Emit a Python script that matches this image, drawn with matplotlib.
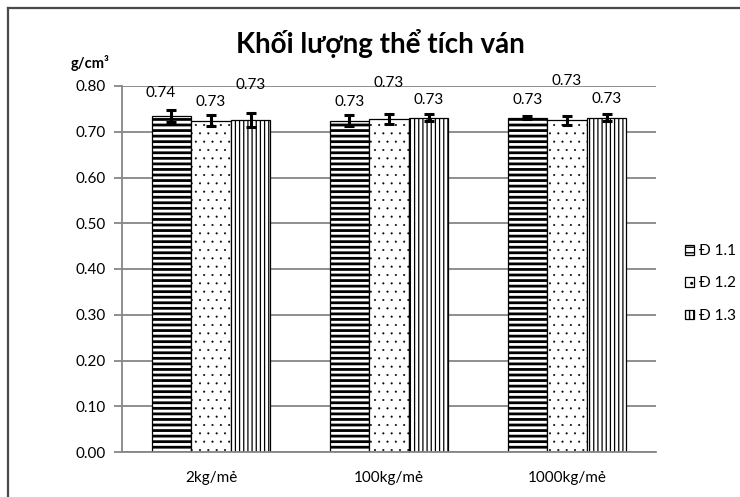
import matplotlib
matplotlib.use('Agg')
import matplotlib.pyplot as plt
import numpy as np
from matplotlib.lines import Line2D

categories = ['2kg/mẻ', '100kg/mẻ', '1000kg/mẻ']
series = ['Đ 1.1', 'Đ 1.2', 'Đ 1.3']
d11 = [0.734, 0.724, 0.731]
d12 = [0.724, 0.728, 0.725]
d13 = [0.726, 0.731, 0.731]
err11 = [0.013, 0.012, 0.004]
err12 = [0.012, 0.010, 0.010]
err13 = [0.015, 0.007, 0.008]
lab11 = ['0.74', '0.73', '0.73']
lab12 = ['0.73', '0.73', '0.73']
lab13 = ['0.73', '0.73', '0.73']
yticks = [0.0, 0.1, 0.2, 0.3, 0.4, 0.5, 0.6, 0.7, 0.8]
ytick_labels = ['0.00', '0.10', '0.20', '0.30', '0.40', '0.50', '0.60', '0.70', '0.80']

plt.rcParams['font.family'] = ['Lato', 'DejaVu Sans']

W, H = 740, 497
fig = plt.figure(figsize=(W / 100, H / 100), dpi=100)
ax = fig.add_axes([122 / W, 1 - 452 / H, (656 - 122) / W, (452 - 86) / H])

# outer border (left and top visible)
fig.add_artist(Line2D([7.5 / W, 7.5 / W], [0, 1 - 7.5 / H], transform=fig.transFigure, color='#4a4a4a', lw=1.6))
fig.add_artist(Line2D([7.5 / W, 1], [1 - 7.5 / H, 1 - 7.5 / H], transform=fig.transFigure, color='#4a4a4a', lw=1.6))

x = np.arange(len(categories))
bw = 0.222
grid_c = '#868686'

ax.set_ylim(0, 0.8)
ax.set_xlim(-0.5, len(categories) - 0.5)
ax.set_yticks(yticks)
ax.set_yticklabels(ytick_labels)
ax.yaxis.grid(True, color=grid_c, lw=1.3)
ax.set_axisbelow(True)
for s in ['top', 'right']:
    ax.spines[s].set_visible(False)
for s in ['left', 'bottom']:
    ax.spines[s].set_color(grid_c)
    ax.spines[s].set_linewidth(1.3)
ax.tick_params(axis='y', direction='out', length=6, color=grid_c, width=1.3, labelsize=11, pad=6)
ax.tick_params(axis='x', length=0, labelsize=11, pad=14)
ax.set_xticks(x)
ax.set_xticklabels(categories)

series_data = [d11, d12, d13]
series_err = [err11, err12, err13]
series_lab = [lab11, lab12, lab13]
hatches = ['---', '..', '||||']
hlw = [2.0, 0.25, 0.9]
offsets_y = [[23, 19, 18], [19, 36, 39], [35, 18, 19]]
offsets_x = [[-11, 0, 0], [0, 0, 0], [0, 0, 0]]

for i in range(3):
    xs = x + (i - 1) * bw
    with plt.rc_context({'hatch.linewidth': hlw[i], 'hatch.color': 'black'}):
        bars = ax.bar(xs, series_data[i], width=bw, color='white', edgecolor='black',
                      hatch=hatches[i], linewidth=0.9, label=series[i], zorder=2)
    ax.errorbar(xs, series_data[i], yerr=series_err[i], fmt='none', ecolor='black',
                elinewidth=2.2, capsize=3.5, capthick=2.2, zorder=3)
    for j in range(3):
        ax.annotate(series_lab[i][j], (xs[j], series_data[i][j]),
                    xytext=(offsets_x[i][j], offsets_y[i][j]), textcoords='offset pixels',
                    ha='center', va='center', fontsize=11, zorder=4)

fig.text(380 / W, 1 - 43 / H, 'Khối lượng thể tích ván', ha='center', va='center',
         fontsize=20, fontweight='bold')
fig.text(90 / W, 1 - 63 / H, 'g/cm³', ha='center', va='center', fontsize=10.5, fontweight='bold')

# legend
leg = ax.legend(loc='upper left', bbox_to_anchor=(679 / W, 1 - 238 / H), bbox_transform=fig.transFigure,
                frameon=False, fontsize=11, handlelength=0.6, handleheight=0.6, handletextpad=0.3,
                labelspacing=1.2, borderaxespad=0)

fig.savefig('out.png', dpi=100)
